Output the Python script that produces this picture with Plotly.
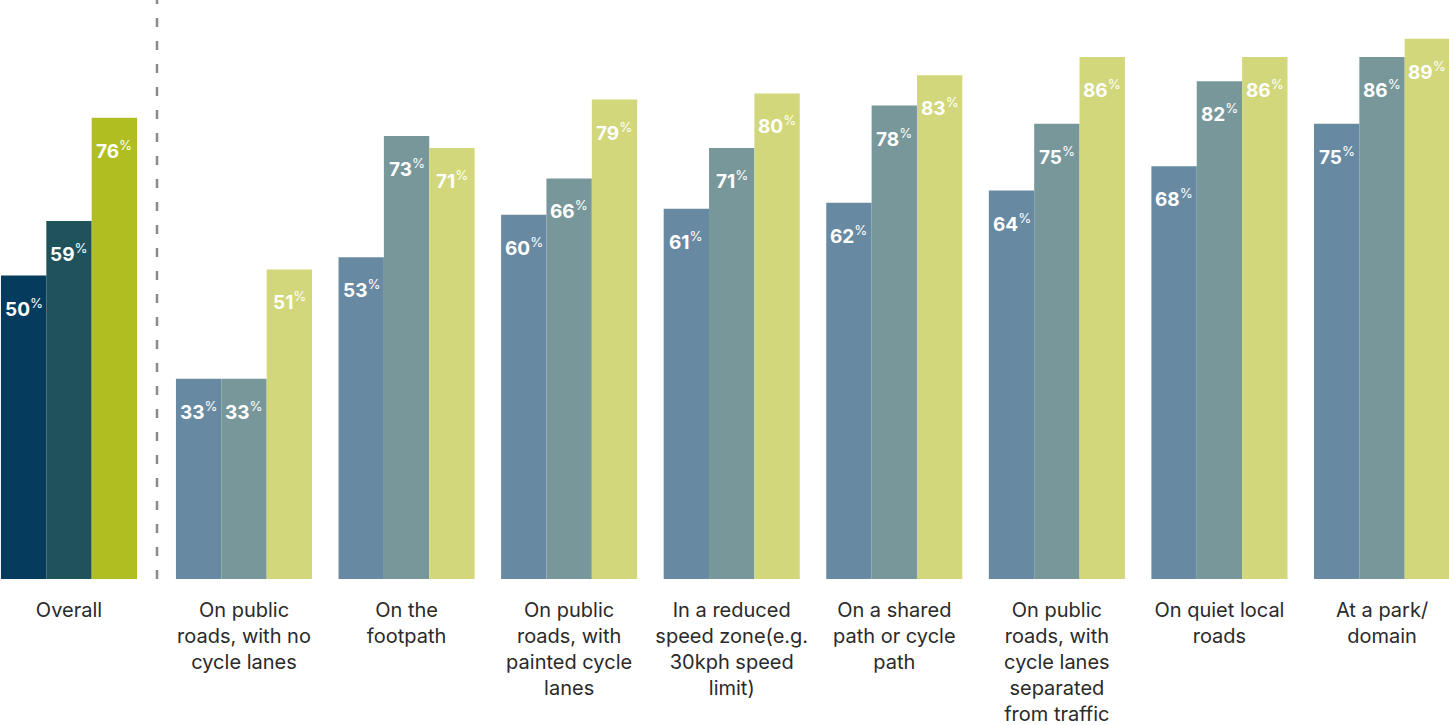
import plotly.graph_objects as go

# Overall result
overall_label = ["Overall"]
overall_a = [50]
overall_b = [59]
overall_c = [76]

# Results by riding location
locations = [
    "On public<br>roads, with no<br>cycle lanes",
    "On the<br>footpath",
    "On public<br>roads, with<br>painted cycle<br>lanes",
    "In a reduced<br>speed zone(e.g.<br>30kph speed<br>limit)",
    "On a shared<br>path or cycle<br>path",
    "On public<br>roads, with<br>cycle lanes<br>separated<br>from traffic",
    "On quiet local<br>roads",
    "At a park/<br>domain",
]
series_a = [33, 53, 60, 61, 62, 64, 68, 75]
series_b = [33, 73, 66, 71, 78, 75, 82, 86]
series_c = [51, 71, 79, 80, 83, 86, 86, 89]

overall_colors = ["#053b5c", "#1f525a", "#b0be22"]
detail_colors = ["#6789a1", "#78979a", "#d1d77a"]

W, H = 1449, 725
BAR_PX = 45.3
FONT = "Inter"

fig = go.Figure()

for vals, col in zip([overall_a, overall_b, overall_c], overall_colors):
    fig.add_trace(go.Bar(x=overall_label, y=vals, marker=dict(color=col, line=dict(width=0)),
                         xaxis="x", yaxis="y", showlegend=False, hoverinfo="skip"))

for vals, col in zip([series_a, series_b, series_c], detail_colors):
    fig.add_trace(go.Bar(x=locations, y=vals, marker=dict(color=col, line=dict(width=0)),
                         xaxis="x2", yaxis="y2", showlegend=False, hoverinfo="skip"))

# value labels inside the bars, near the top
annotations = []
def add_labels(cats, groups, xref, yref):
    for k, vals in enumerate(groups):
        for cat, v in zip(cats, vals):
            annotations.append(dict(
                x=cat, y=v, xref=xref, yref=yref,
                text=f"<b>{v}</b><sup>%</sup>",
                showarrow=False, xanchor="center", yanchor="top",
                xshift=(k - 1) * BAR_PX, yshift=-17,
                font=dict(family=FONT, size=19, color="white"),
            ))

add_labels(overall_label, [overall_a, overall_b, overall_c], "x", "y")
add_labels(locations, [series_a, series_b, series_c], "x2", "y2")

axis_common = dict(
    showgrid=False, zeroline=False, showline=False,
    ticks="outside", ticklen=13, tickcolor="rgba(0,0,0,0)",
    tickfont=dict(family=FONT, size=20, color="#2a2a2a"),
    fixedrange=True,
)
y_common = dict(range=[0, 95.4], visible=False, fixedrange=True)

fig.update_layout(
    width=W, height=H,
    margin=dict(l=0, r=0, t=0, b=146),
    paper_bgcolor="white", plot_bgcolor="white",
    barmode="group", bargap=0.163, bargroupgap=0,
    xaxis=dict(domain=[0, 150 / W], range=[-0.4244, 0.4983], anchor="y", **axis_common),
    xaxis2=dict(domain=[162.7 / W, 1], range=[-0.5, 7.412], anchor="y2", **axis_common),
    yaxis=dict(anchor="x", **y_common),
    yaxis2=dict(anchor="x2", **y_common),
    annotations=annotations,
    shapes=[dict(type="line", xref="paper", yref="paper",
                 x0=157 / W, x1=157 / W, y0=0, y1=1,
                 line=dict(color="#8a8a8a", width=2.5, dash="9px,14px"))],
)

fig.write_html("out.html")
